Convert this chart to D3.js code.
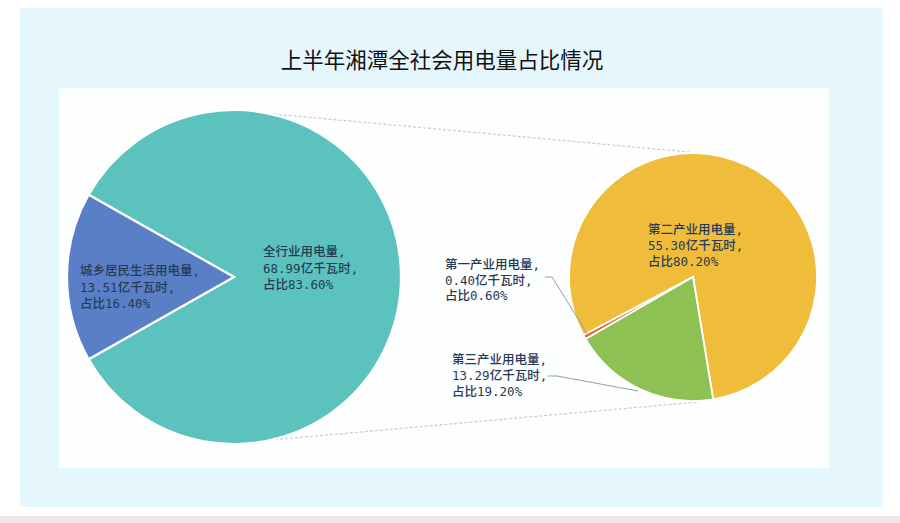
<!DOCTYPE html>
<html><head><meta charset="utf-8">
<script src="https://cdn.jsdelivr.net/npm/d3@7/dist/d3.min.js"></script>
<style>
html,body{margin:0;padding:0;background:#fff;}
svg{display:block;}
</style></head>
<body>
<svg id="c" width="900" height="523"></svg>
<script>
const title = "上半年湘潭全社会用电量占比情况";
// main pie
const mainCats = ["全行业用电量", "城乡居民生活用电量"];
const mainValues = [68.99, 13.51];
const mainPct = ["83.60%", "16.40%"];
// secondary pie (breakdown of 全行业用电量)
const subCats = ["第一产业用电量", "第二产业用电量", "第三产业用电量"];
const subValues = [0.40, 55.30, 13.29];
const subPct = ["0.60%", "80.20%", "19.20%"];
const unit = "亿千瓦时";

const svg = d3.select("#c");
// backgrounds
svg.append("rect").attr("x",0).attr("y",516).attr("width",900).attr("height",7).attr("fill","#ece8e7");
svg.append("rect").attr("x",20).attr("y",8).attr("width",863).attr("height",499).attr("fill","#e6f6fd");
svg.append("rect").attr("x",59).attr("y",88).attr("width",770).attr("height",380).attr("fill","#fdfefe");

svg.append("text").attr("x",442).attr("y",68).attr("text-anchor","middle")
  .attr("font-family","'Noto Sans CJK SC', sans-serif").attr("font-size",21.5)
  .attr("font-weight",400).attr("fill","#111").text(title);

const deg = Math.PI/180;
const mainC = [234, 277], mainR = 167;
const subC = [693, 277], subR = 124;

const mainColors = ["#5cc2bd", "#5a7fc6"];
const subColors = ["#e4643a", "#f0bd3b", "#8dc153"];

// main pie: residential slice centred on 9 o'clock
const resFrac = mainValues[1]/d3.sum(mainValues);
const mainStart = (270 + resFrac*180)*deg;
const mainPie = d3.pie().sort(null).startAngle(mainStart).endAngle(mainStart+2*Math.PI)(mainValues);
const subPie = d3.pie().sort(null).startAngle(240*deg).endAngle(600*deg)(subValues);

const arcM = d3.arc().innerRadius(0).outerRadius(mainR);
const arcS = d3.arc().innerRadius(0).outerRadius(subR);

// connector dashed lines
function pt(c, r, a){ return [c[0]+r*Math.sin(a), c[1]-r*Math.cos(a)]; }
const conn = [[12*deg, -1.5*deg],[167.5*deg, 177*deg]];
conn.forEach(([a1,a2])=>{
  const p1 = pt(mainC, mainR, a1), p2 = pt(subC, subR+1, a2);
  svg.append("line").attr("x1",p1[0]).attr("y1",p1[1]).attr("x2",p2[0]).attr("y2",p2[1])
    .attr("stroke","#c9cbcd").attr("stroke-width",1.2).attr("stroke-dasharray","3,2");
});

svg.append("g").attr("transform",`translate(${mainC})`).selectAll("path").data(mainPie).join("path")
  .attr("d",arcM).attr("fill",(d,i)=>mainColors[i]).attr("stroke","#fff").attr("stroke-width",2.2);
svg.append("g").attr("transform",`translate(${subC})`).selectAll("path").data(subPie).join("path")
  .attr("d",arcS).attr("fill",(d,i)=>subColors[i]).attr("stroke","#fff").attr("stroke-width",1.8);

const font = "'DejaVu Sans Mono','Noto Sans CJK SC', monospace";
function label(x, y, lines, lh){
  const t = svg.append("text").attr("x",x).attr("y",y).attr("font-family",font)
    .attr("font-size",12.5).attr("font-weight",500).attr("fill","#263a58");
  lines.forEach((s,i)=>t.append("tspan").attr("x",x).attr("y",y+i*lh).text(s));
}
function lines(cat, v, p){ return [cat+",", v.toFixed(2)+unit+",", "占比"+p]; }

label(80, 275, lines(mainCats[1], mainValues[1], mainPct[1]), 16.5);
label(263, 256, lines(mainCats[0], mainValues[0], mainPct[0]), 16.5);
label(648, 234, lines(subCats[1], subValues[1], subPct[1]), 16);
label(445, 269, lines(subCats[0], subValues[0], subPct[0]), 15.5);
label(452, 364, lines(subCats[2], subValues[2], subPct[2]), 16);

// leader lines
const lead = svg.append("g").attr("fill","none").attr("stroke","#9a9ea3").attr("stroke-width",1);
const a0 = (subPie[0].startAngle+subPie[0].endAngle)/2;
const e0 = pt(subC, subR-4, a0);
lead.append("polyline").attr("points",[[545,277],[552,277],e0].join(" "));
lead.append("polyline").attr("points",[[548,376],[557,376],[638,391]].join(" "));
</script>
</body></html>
